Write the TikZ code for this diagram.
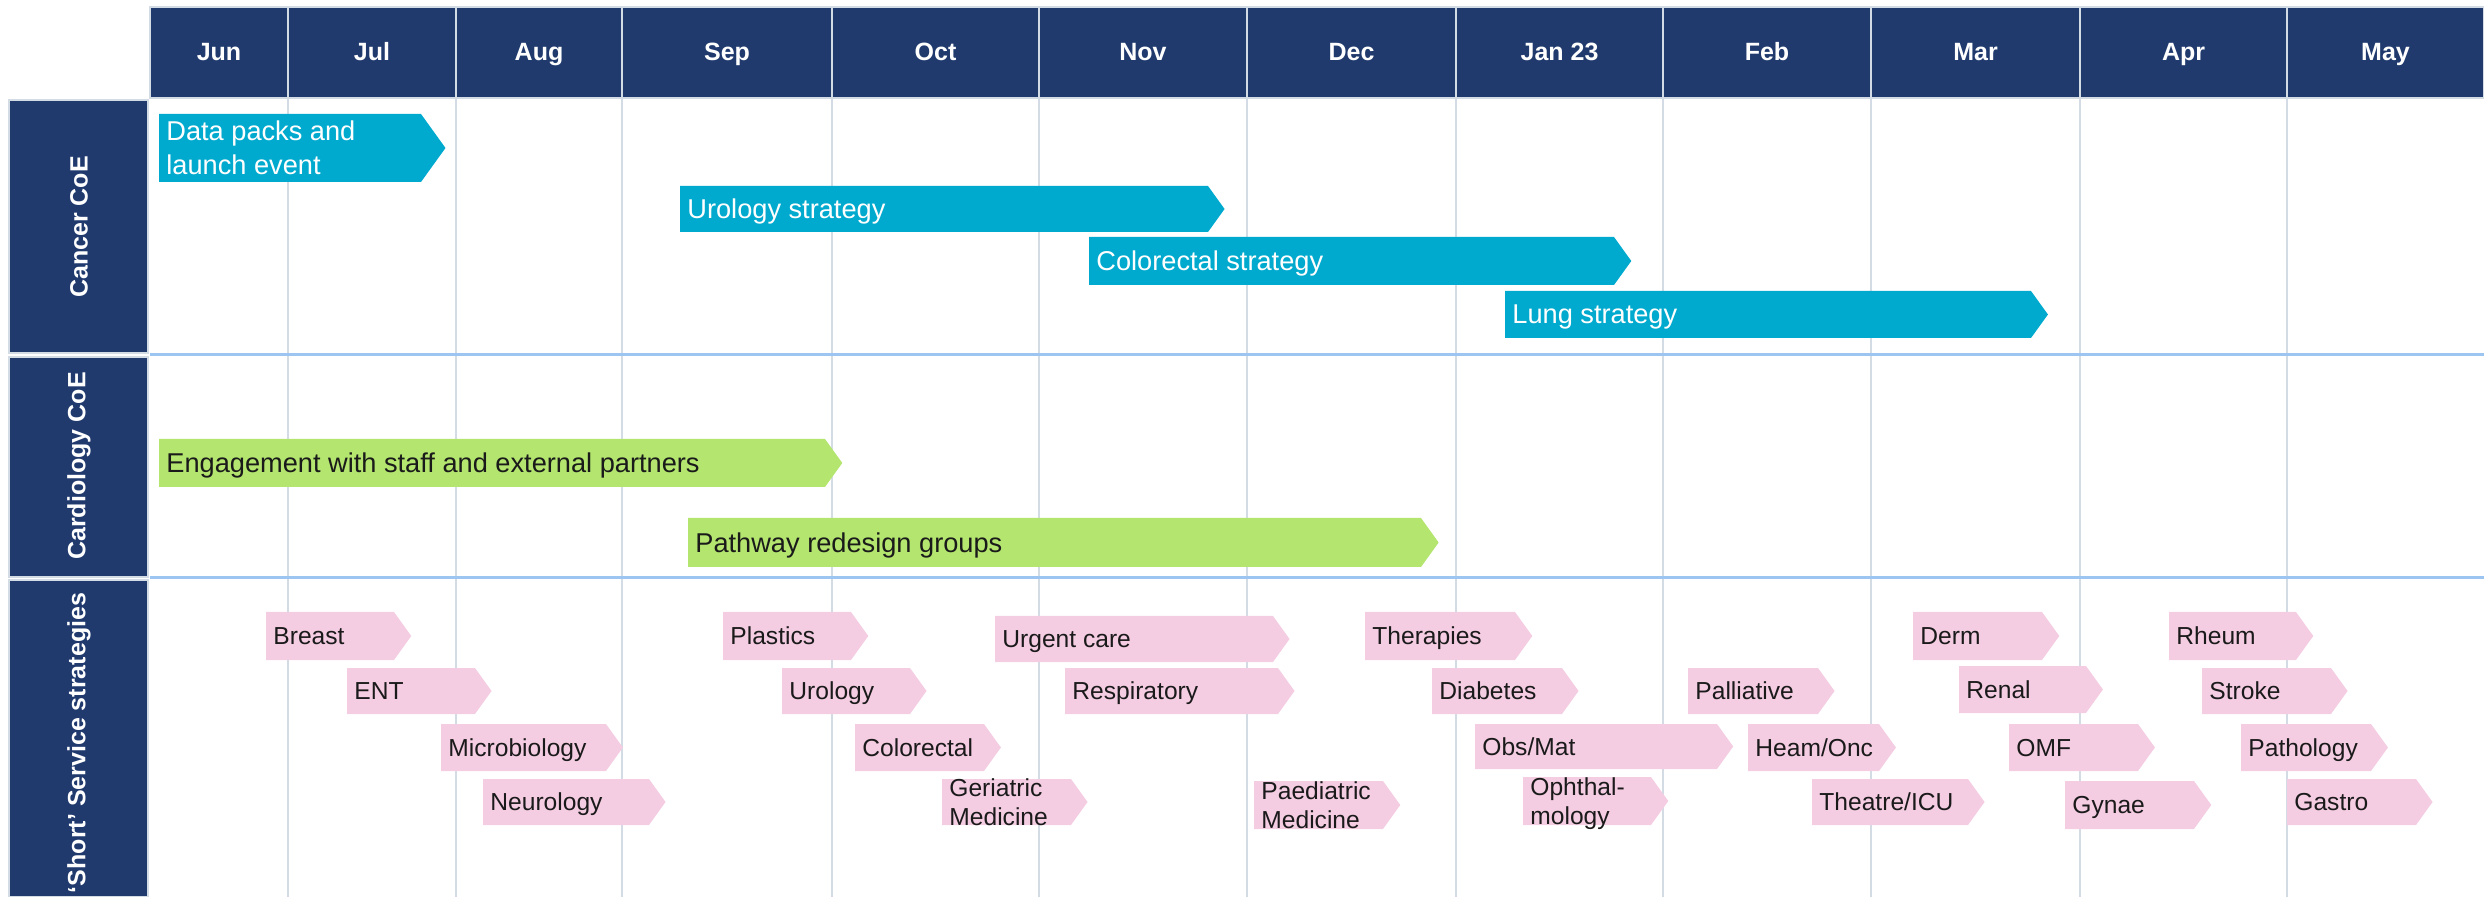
\documentclass[tikz,border=0pt]{standalone}
\usepackage{fontspec}
\setmainfont{Liberation Sans}
\usepackage{tikz}
\definecolor{rmnavy}{HTML}{203A6E}
\definecolor{rmcancer}{HTML}{00AACE}
\definecolor{rmcardio}{HTML}{B3E56F}
\definecolor{rmshort}{HTML}{F5CDE3}
\definecolor{rmgrid}{HTML}{D3DCE4}
\definecolor{rmrule}{HTML}{9DC5F2}
\definecolor{rmink}{HTML}{1A1A1A}

\begin{document}
\begin{tikzpicture}[x=0.5pt,y=-0.5pt,
  month/.style={font=\bfseries\fontsize{12.5}{15}\selectfont,text=white,anchor=base},
  lane/.style={font=\bfseries\fontsize{12.5}{15}\selectfont,text=white,rotate=90},
  bartxt/.style={font=\fontsize{13.6}{17}\selectfont,align=left,inner sep=0pt,text depth=0pt,anchor=west},
  sstxt/.style={font=\fontsize{12.3}{14.5}\selectfont,text=rmink,align=left,inner sep=0pt,text depth=0pt,anchor=west}]
  \useasboundingbox (0,0) rectangle (2484,897);
  \fill[rmnavy] (150,7) rectangle (2484,98);
  \foreach \t/\b in {100/353,357/577,580/897}{\filldraw[rmnavy,draw=rmgrid,line width=0.6pt] (9,\t) rectangle (148,\b);}
  \foreach \x in {288,456,622,832,1039,1247,1456,1663,1871,2080,2287}{\draw[rmgrid,line width=1pt] (\x,7) -- (\x,897);}
  \draw[rmgrid,line width=0.6pt] (150,7) rectangle (2484,98);
  \foreach \y in {355,578}{\draw[rmrule,line width=1.5pt] (150,\y) -- (2484,\y);}
  \foreach \l/\r/\m [count=\i] in {150/288/Jun,288/456/Jul,456/622/Aug,622/832/Sep,832/1039/Oct,1039/1247/Nov,1247/1456/Dec,1456/1663/Jan 23,1663/1871/Feb,1871/2080/Mar,2080/2287/Apr,2287/2484/May}{\node[month] (mon\i) at ({(\l+\r)/2},61) {\m};}
  \node[lane] (cancer) at (79,227) {Cancer CoE};
  \node[lane] (cardio) at (79,466) {Cardiology CoE};
  \node[lane] (short) at (79,743) {‘Short’ Service strategies};
  % Cancer CoE
  \foreach \l/\r/\t/\b/\txt [count=\i] in {159/421/114/182/{Data packs and\\launch event},680/1208/186/232/{Urology strategy},1089/1614/237/285/{Colorectal strategy},1505/2031/291/338/{Lung strategy}}{
    \fill[rmcancer] (\l,\t) -- (\r,\t) -- ({\r+0.36*(\b-\t)},{(\t+\b)/2}) -- (\r,\b) -- (\l,\b) -- cycle;
    \node[bartxt,text=white] (can\i) at (\l+7,{(\t+\b)/2}) {\txt};}
  % Cardiology CoE
  \foreach \l/\r/\t/\b/\txt [count=\i] in {159/825/439/487/{Engagement with staff and external partners},688/1421/518/567/{Pathway redesign groups}}{
    \fill[rmcardio] (\l,\t) -- (\r,\t) -- ({\r+0.36*(\b-\t)},{(\t+\b)/2}) -- (\r,\b) -- (\l,\b) -- cycle;
    \node[bartxt,text=rmink] (car\i) at (\l+7,{(\t+\b)/2}) {\txt};}
  % short service strategies
  \foreach \l/\r/\t/\b/\txt [count=\i] in {266/394/612/660/{Breast},347/475/668/714/{ENT},441/606/724/771/{Microbiology},483/649/779/825/{Neurology},
    723/851/612/660/{Plastics},782/910/668/714/{Urology},855/984/724/771/{Colorectal},942/1071/779/825/{Geriatric\\Medicine},
    995/1273/616/662/{Urgent care},1065/1278/668/714/{Respiratory},1254/1383/781/829/{Paediatric\\Medicine},
    1365/1515/612/660/{Therapies},1432/1562/668/714/{Diabetes},1475/1717/724/769/{Obs/Mat},1523/1651/777/825/{Ophthal-\\mology},
    1688/1818/668/714/{Palliative},1748/1879/724/771/{Heam/Onc},1812/1968/779/825/{Theatre/ICU},
    1913/2042/612/660/{Derm},1959/2086/666/713/{Renal},2009/2138/724/771/{OMF},2065/2194/781/829/{Gynae},
    2169/2296/612/660/{Rheum},2202/2331/668/714/{Stroke},2241/2371/724/771/{Pathology},2287/2416/779/825/{Gastro}}{
    \fill[rmshort] (\l,\t) -- (\r,\t) -- ({\r+0.36*(\b-\t)},{(\t+\b)/2}) -- (\r,\b) -- (\l,\b) -- cycle;
    \node[sstxt] (sss\i) at (\l+7,{(\t+\b)/2}) {\txt};}
\end{tikzpicture}
\end{document}
